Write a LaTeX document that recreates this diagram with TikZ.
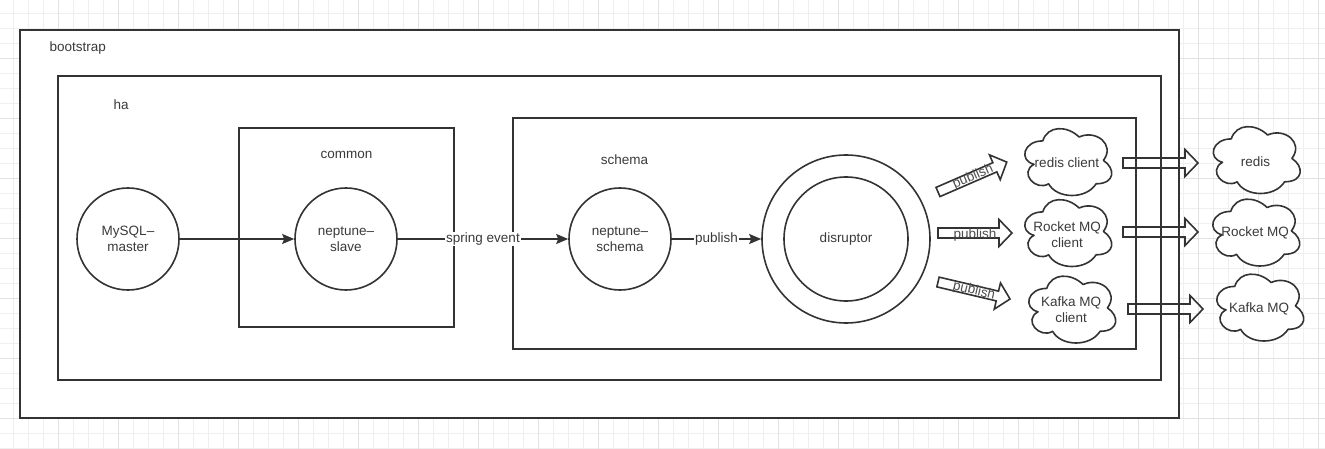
\documentclass[tikz,border=0pt]{standalone}
\usepackage{fontspec}
\setmainfont{Liberation Sans}
\usetikzlibrary{arrows.meta}
\definecolor{ink}{HTML}{333333}
\definecolor{txt}{HTML}{3A3A3A}
\definecolor{gridminor}{HTML}{EFEFEF}
\definecolor{gridmajor}{HTML}{E2E2E2}
\newcommand{\blkarrow}[4]{%
  \begin{scope}[shift={(#1,#2)},rotate=#3]
    \draw[blkarrow] (0,-5) -- ({#4-13},-5) -- ({#4-13},-13.5) -- (#4,0) -- ({#4-13},13.5) -- ({#4-13},5) -- (0,5) -- cycle;
  \end{scope}}
% cloud drawn around visible centre (#1,#2)
\newcommand{\dcloud}[2]{%
  \begin{scope}[shift={({#1-48.5},{#2-40.6})},x=97pt,y=-78pt]
    \draw[cloudline] (0.25,0.25) .. controls (0.05,0.25) and (0,0.5) .. (0.16,0.55)
      .. controls (0,0.66) and (0.18,0.9) .. (0.31,0.8)
      .. controls (0.4,1) and (0.7,1) .. (0.8,0.8)
      .. controls (1,0.8) and (1,0.6) .. (0.875,0.5)
      .. controls (1,0.3) and (0.8,0.1) .. (0.625,0.2)
      .. controls (0.5,0.05) and (0.3,0.05) .. (0.25,0.25) -- cycle;
  \end{scope}}
\begin{document}
\begin{tikzpicture}[x=1pt,y=-1pt,
  every node/.style={font=\fontsize{13.5}{16}\selectfont, text=txt},
  boxframe/.style={draw=ink, line width=2pt, fill=white},
  ball/.style={circle, draw=ink, line width=1.6pt, fill=white, minimum size=102pt, inner sep=0pt, align=center},
  cloudline/.style={draw=ink, line width=1.6pt, fill=white, line join=round},
  cloudtext/.style={align=center, inner sep=0pt},
  flow/.style={draw=ink, line width=1.6pt, -{Stealth[length=12pt,width=10pt,inset=2pt]}},
  lbl/.style={fill=white, inner sep=1pt},
  blkarrow/.style={draw=ink, line width=1.6pt, line join=miter},
  publbl/.style={inner sep=0pt, text=txt!90}]
\useasboundingbox (0,0) rectangle (1325,449);
% background grid
\fill[white] (0,0) rectangle (1325,449);
\foreach \k in {0,...,88} {
  \pgfmathsetmacro{\gx}{13.3+15*\k}
  \draw[gridminor, line width=1pt] (\gx,0) -- (\gx,449);
}
\foreach \k in {0,...,29} {
  \pgfmathsetmacro{\gy}{13.3+15*\k}
  \draw[gridminor, line width=1pt] (0,\gy) -- (1325,\gy);
}
\foreach \k in {0,...,21} {
  \pgfmathsetmacro{\gx}{58.3+60*\k}
  \draw[gridmajor, line width=1pt] (\gx,0) -- (\gx,449);
}
\foreach \k in {0,...,6} {
  \pgfmathsetmacro{\gy}{58.3+60*\k}
  \draw[gridmajor, line width=1pt] (0,\gy) -- (1325,\gy);
}
% frames
\draw[boxframe] (20,30) rectangle (1179,418);
\draw[boxframe] (58,76) rectangle (1161,380);
\draw[boxframe] (239,128) rectangle (454,327);
\draw[boxframe] (513,118) rectangle (1136,349);
\node[anchor=west] (tboot) at (46,48) {bootstrap};
\node[anchor=west] (tha) at (110,105) {ha};
\node (tcommon) at (346.5,155) {common};
\node (tschema) at (624.5,160) {schema};
% circles
\node[ball] (mysql) at (128,239) {MySQL–\\master};
\node[ball] (slave) at (346,239) {neptune–\\slave};
\node[ball] (schema) at (620,239) {neptune–\\schema};
\node[circle, draw=ink, line width=1.6pt, fill=white, minimum size=168pt, inner sep=0pt] (ring) at (846,239) {};
\node[circle, draw=ink, line width=1.6pt, fill=white, minimum size=124pt, inner sep=0pt] (disruptor) at (846,239) {disruptor};
% connectors
\draw[flow] (mysql) -- (slave);
\draw[flow] (slave) -- node[lbl] (lspring) {spring event} (schema);
\draw[flow] (schema) -- node[lbl] (lpub) {publish} (ring);
% clouds
\dcloud{1067}{162}
\dcloud{1067}{233}
\dcloud{1071}{309.5}
\dcloud{1255.5}{160}
\dcloud{1255}{232.5}
\dcloud{1259}{307.5}
\node[cloudtext] (redisc) at (1067,162.5) {redis client};
\node[cloudtext] (rocketc) at (1067,234.5) {Rocket MQ\\client};
\node[cloudtext] (kafkac) at (1071,310) {Kafka MQ\\client};
\node[cloudtext] (redis) at (1255.5,161.5) {redis};
\node[cloudtext] (rocket) at (1255,233) {Rocket MQ};
\node[cloudtext] (kafka) at (1259,308.5) {Kafka MQ};
% publish block arrows
\blkarrow{938}{192}{23.5}{75}
\blkarrow{938}{233}{0}{74}
\blkarrow{938}{282}{-13.3}{74}
\node[publbl, rotate=23.5] (pub1) at (973,177) {publish};
\node[publbl] (pub2) at (975,235) {publish};
\node[publbl, rotate=-13.3] (pub3) at (974,291) {publish};
% outgoing block arrows
\blkarrow{1123}{163}{0}{75}
\blkarrow{1123}{232}{0}{75}
\blkarrow{1128}{309}{0}{75}
\end{tikzpicture}
\end{document}
